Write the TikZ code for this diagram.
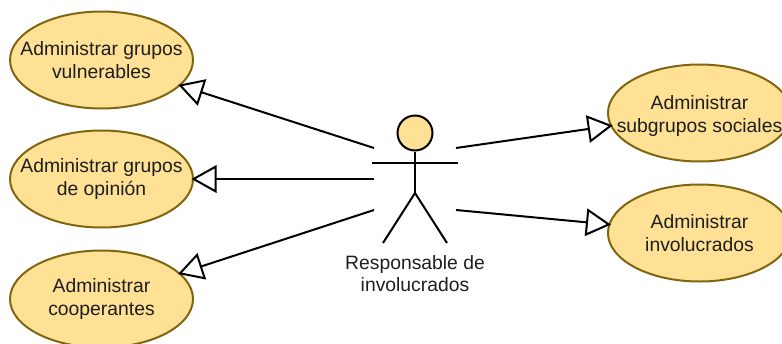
\documentclass[tikz,border=0pt]{standalone}
\usepackage{fontspec}
\setmainfont{Liberation Sans}
\usetikzlibrary{arrows.meta,shapes.geometric}
\definecolor{usefill}{HTML}{FFE196}
\definecolor{useline}{HTML}{7F6510}
\definecolor{labeltext}{HTML}{1E1E1E}
\tikzset{
  usecase/.style={draw=useline,fill=usefill,line width=0.04cm,ellipse,inner xsep=-0.45cm,inner ysep=0pt,
    minimum width=3.66cm,minimum height=1.94cm,align=center,text=labeltext,
    font=\fontsize{11}{12.8}\selectfont},
  limb/.style={black,line width=0.04cm},
  assoc/.style={black,line width=0.04cm,shorten >=-0.05cm,-{Triangle[open,fill=white,length=0.5cm,width=0.55cm]}},
}
\begin{document}
\begin{tikzpicture}
    \clip (0,0) rectangle (15.64,6.86);
    \node[usecase] (vuln) at (2.03, 5.66){Administrar grupos\\vulnerables};
    \node[usecase] (opin) at (2.03, 3.28){Administrar grupos\\de opinión};
    \node[usecase] (coop) at (2.03, 0.88){Administrar\\cooperantes};
    \node[usecase] (subg) at (13.99, 4.60){\rule{0pt}{0.4cm}Administrar\\subgrupos sociales};
    \node[usecase] (invo) at (13.99, 2.20){Administrar\\involucrados};
    \node[circle,draw=black,fill=usefill,line width=0.04cm,inner sep=0pt,minimum size=0.7cm] (head) at (8.30, 4.20){};
    \coordinate (hip) at (8.30, 3.00);
    \coordinate (armL) at (7.44, 3.60);
    \coordinate (armR) at (9.16, 3.60);
    \coordinate (footL) at (7.66, 2.00);
    \coordinate (footR) at (8.94, 2.00);
    \draw[limb] (head) -- (hip);
    \draw[limb] (armL) -- (armR);
    \draw[limb] (footL) -- (hip) -- (footR);
    \node[align=center,text=labeltext,font=\fontsize{11}{12.8}\selectfont] (actor) at (8.30, 1.39){Responsable de\\involucrados};
    \coordinate (lt) at (7.48, 3.90);
    \coordinate (lm) at (7.48, 3.28);
    \coordinate (lb) at (7.48, 2.66);
    \coordinate (rt) at (9.12, 3.90);
    \coordinate (rb) at (9.12, 2.66);
    \draw[assoc] (lt) -- (vuln);
    \draw[assoc] (lm) -- (opin);
    \draw[assoc] (lb) -- (coop);
    \draw[assoc] (rt) -- (subg);
    \draw[assoc] (rb) -- (invo);
  \end{tikzpicture}
\end{document}
